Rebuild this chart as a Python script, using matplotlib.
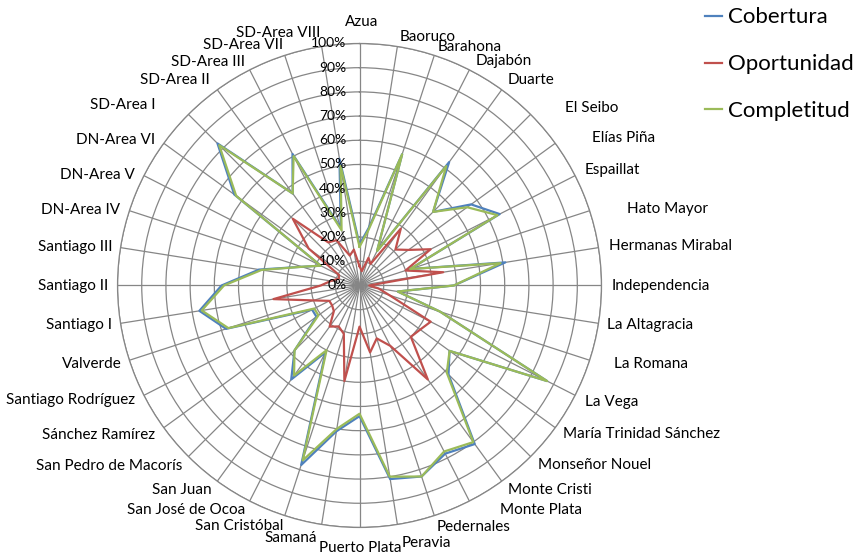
import numpy as np
import matplotlib.pyplot as plt

plt.rcParams['font.family'] = ['Lato', 'DejaVu Sans']

regions = ['Azua', 'Baoruco', 'Barahona', 'Dajabón', 'Duarte', 'El Seibo', 'Elías Piña',
           'Espaillat', 'Hato Mayor', 'Hermanas Mirabal', 'Independencia', 'La Altagracia',
           'La Romana', 'La Vega', 'María Trinidad Sánchez', 'Monseñor Nouel', 'Monte Cristi',
           'Monte Plata', 'Pedernales', 'Peravia', 'Puerto Plata', 'Samaná', 'San Cristóbal',
           'San José de Ocoa', 'San Juan', 'San Pedro de Macorís', 'Sánchez Ramírez',
           'Santiago Rodríguez', 'Valverde', 'Santiago I', 'Santiago II', 'Santiago III',
           'DN-Area IV', 'DN-Area V', 'DN-Area VI', 'SD-Area I', 'SD-Area II', 'SD-Area III',
           'SD-Area VII', 'SD-Area VIII']

cobertura = [17, 24, 57, 16, 63, 43, 57, 65, 22, 61, 39, 16, 35, 87, 46, 52, 81, 78, 83, 81,
             54, 61, 78, 31, 48, 38, 22, 22, 58, 67, 57, 42, 25, 18, 64, 83, 47, 61, 25, 53]
oportunidad = [8, 6, 12, 10, 29, 21, 25, 33, 20, 35, 4, 8, 13, 33, 31, 30, 48, 28, 23, 28,
               17, 40, 21, 19, 21, 15, 14, 14, 20, 36, 16, 12, 9, 9.5, 26, 39, 22, 21, 13, 15]
completitud = [16, 23, 57, 16, 61, 43, 55, 64, 22, 59, 39, 16, 35, 87, 46, 51, 80, 77, 83, 80,
               53, 60, 76, 30, 46, 38, 21, 21, 57, 66, 56, 41, 25, 18, 63, 82, 47, 60, 24, 50]

ticks = [0, 10, 20, 30, 40, 50, 60, 70, 80, 90, 100]

# label nudges (pixels, x right / y down) from the point where each spoke meets the outer ring
label_nudge = [(2.5, -21.5), (2.6, -9.5), (3.7, -8.3), (6.6, -8.9), (6.3, -9.7), (34.4, -6.4),
               (36.7, -5.3), (9.9, -5.6), (37.3, -1.7), (10.5, -1.6), (10.5, 0.5), (8.5, 1.6),
               (24.3, 3.7), (9.9, 6.6), (7.7, 6.3), (7.4, 8.4), (6.3, 8.7), (30.6, 8.9),
               (2.7, 11.3), (4.6, 18.5), (0.5, 20.5), (-4.6, 13.5), (-1.7, 10.3), (-4.6, 8.9),
               (-5.3, 8.7), (-6.4, 9.4), (-8.7, 7.3), (-8.9, 4.6), (-7.3, 3.7), (-8.5, 1.6),
               (-9.5, 0.5), (-8.5, -0.6), (-9.3, -0.7), (-8.9, -0.6), (-8.7, -3.3),
               (-33.4, -9.4), (-7.3, -9.7), (-4.6, -7.9), (-1.7, -10.3), (-1.6, -13.5)]

n = len(regions)
angles = np.arange(n) * 2 * np.pi / n

fig = plt.figure(figsize=(8.56, 5.54), dpi=100)
ax = fig.add_axes([0.1373, 0.0479, 0.5654, 0.8736], projection='polar')
ax.set_theta_zero_location('N')
ax.set_theta_direction(-1)
ax.set_ylim(0, 100)
ax.set_xticks(angles)
ax.set_xticklabels([])
ax.set_yticks(ticks)
ax.set_yticklabels([])
ax.grid(color='#868686', lw=0.9)
ax.spines['polar'].set_color('#868686')
ax.spines['polar'].set_linewidth(0.9)

series = [('Cobertura', cobertura, '#4F81BD'),
          ('Oportunidad', oportunidad, '#C0504D'),
          ('Completitud', completitud, '#9BBB59')]
for name, vals, col in series:
    v = np.append(vals, vals[0])
    a = np.append(angles, angles[0])
    ax.plot(a, v, color=col, lw=1.6, label=name)

# radial tick labels along the first spoke
for r in ticks:
    ax.annotate(f'{r}%', xy=(0, r), xytext=(-13, 0), textcoords='offset pixels',
                ha='right', va='center', fontsize=10)

# category labels around the outside
for i, (th, name) in enumerate(zip(angles, regions)):
    if i == 0 or i == n // 2:
        ha = 'center'
    elif i < n // 2:
        ha = 'left'
    else:
        ha = 'right'
    dx, dy = label_nudge[i]
    ax.annotate(name, xy=(th, 100), xytext=(dx, -dy), textcoords='offset pixels',
                ha=ha, va='center', fontsize=11)

fig.legend(loc='upper left', bbox_to_anchor=(0.8185, 0.9946), frameon=False, fontsize=16,
           handlelength=0.77, handletextpad=0.27, labelspacing=1.21, borderaxespad=0,
           borderpad=0.2)

fig.savefig('out.png', dpi=100)
